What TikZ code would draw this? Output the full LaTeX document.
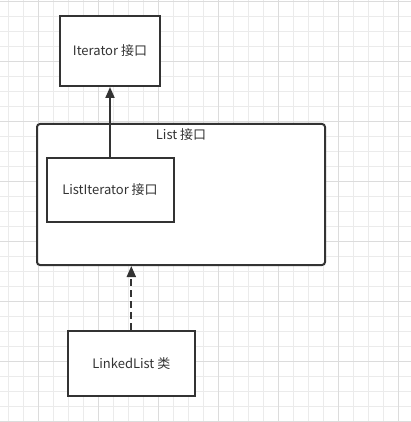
\documentclass[tikz,border=0pt]{standalone}
\usepackage{fontspec}
\setmainfont{Noto Sans CJK SC}
\usetikzlibrary{arrows.meta,positioning}
\definecolor{ink}{HTML}{333333}
\definecolor{gridminor}{HTML}{EBEBEB}
\definecolor{gridmajor}{HTML}{DCDCDC}

\tikzset{
box/.style={draw=ink, line width=2pt, fill=white, text=ink, font=\fontsize{13}{15}\selectfont, inner sep=0pt},
link/.style={draw=ink, line width=2pt, -{Triangle[length=11pt,width=9pt]}}
}

\begin{document}
\begin{tikzpicture}[x=1pt,y=-1pt]
\useasboundingbox (0,0) rectangle (411,422);
\fill[white] (0,0) rectangle (411,422);
% background grid
\foreach \x in {8,23,...,411} \draw[gridminor, line width=0.8pt] (\x,0) -- (\x,422);
\foreach \y in {1,16,...,422} \draw[gridminor, line width=0.8pt] (0,\y) -- (411,\y);
\foreach \x in {38,98,...,411} \draw[gridmajor, line width=0.8pt] (\x,0) -- (\x,422);
\foreach \y in {1,61,...,422} \draw[gridmajor, line width=0.8pt] (0,\y) -- (411,\y);

\node[box, minimum width=100pt, minimum height=70pt] (iter) at (110,51) {Iterator 接口};
\node[box, rounded corners=3pt, minimum width=288pt, minimum height=141pt] (list) at (181,194.5) {};
\node[text=ink, font=\fontsize{13}{15}\selectfont, inner sep=0pt, below=5pt of list.north] (listlabel) {List 接口};
\node[box, minimum width=127pt, minimum height=64pt] (listiter) at (110,190) {ListIterator 接口};
\node[box, minimum width=127pt, minimum height=65pt] (linked) at (131.3,363.3) {LinkedList 类};

\draw[link] (listiter.north) -- (iter.south);
\draw[link, dash pattern=on 7pt off 4pt] (linked.north) -- (linked.north |- list.south);

\end{tikzpicture}
\end{document}
